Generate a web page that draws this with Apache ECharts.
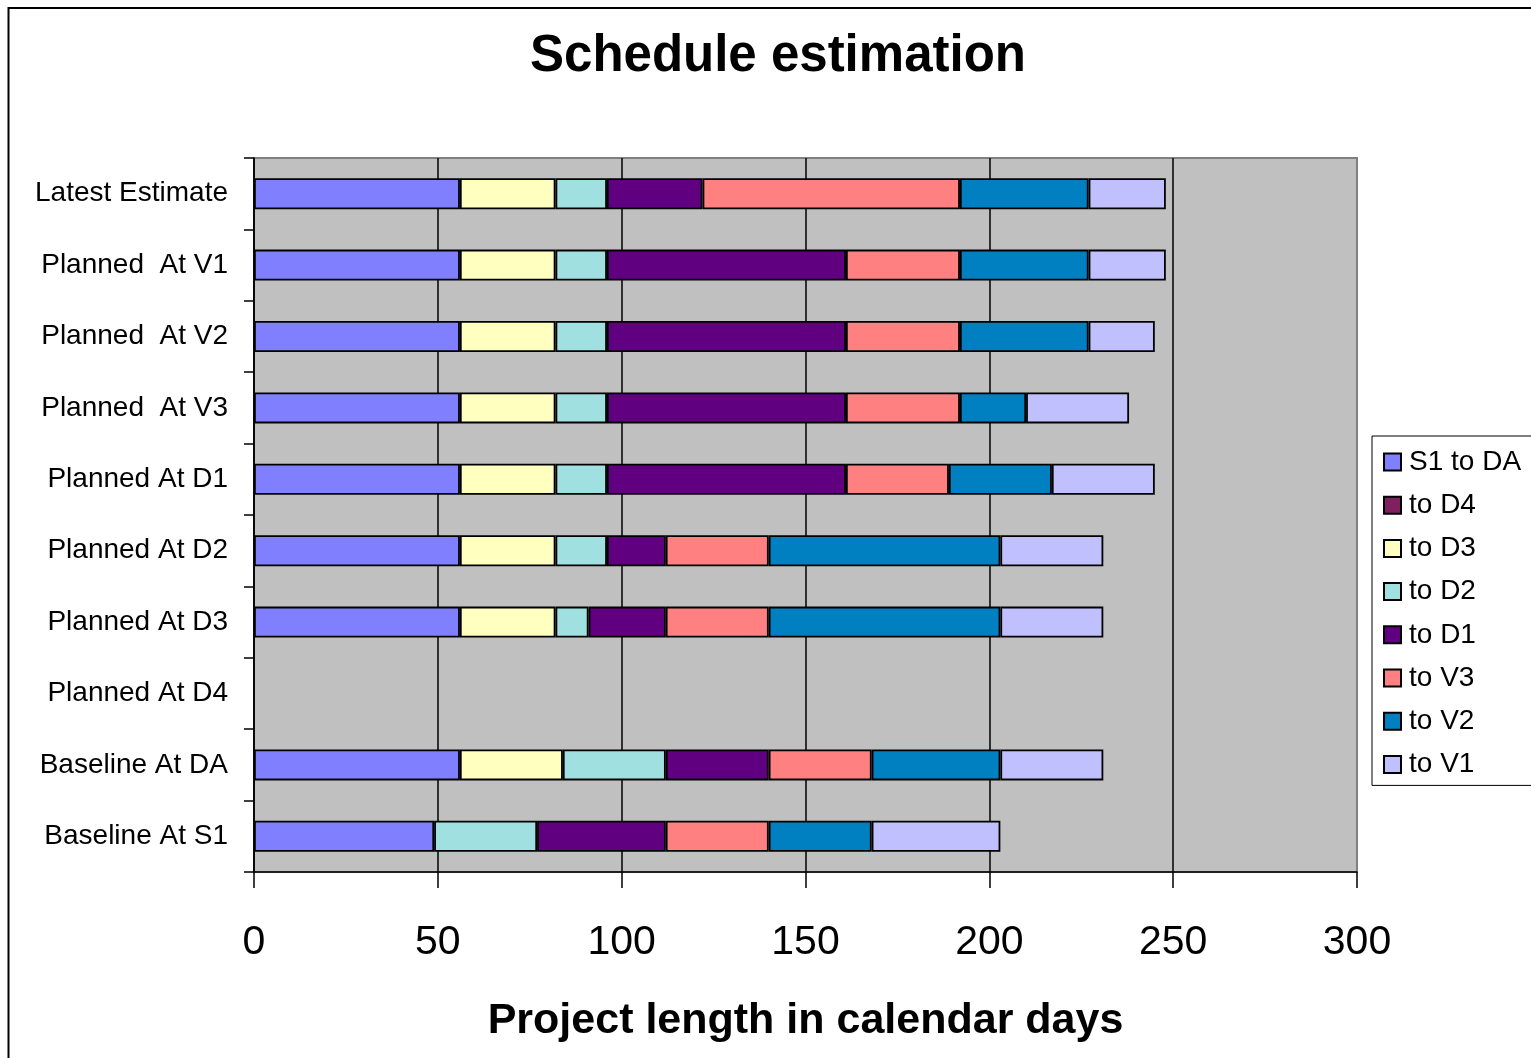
<!DOCTYPE html>
<html>
<head>
<meta charset="utf-8">
<script src="https://cdn.jsdelivr.net/npm/echarts@6/dist/echarts.min.js"></script>
<style>
  html, body { margin: 0; padding: 0; background: #fff; }
  #chart { width: 1531px; height: 1058px; }
</style>
</head>
<body>
<div id="chart"></div>
<script>
// rows, top to bottom
const categories = [
    'Latest Estimate', 'Planned  At V1', 'Planned  At V2', 'Planned  At V3', 'Planned At D1',
    'Planned At D2', 'Planned At D3', 'Planned At D4', 'Baseline At DA', 'Baseline At S1'
];
const xTicks = [0, 50, 100, 150, 200, 250, 300];

// days per phase, same row order as categories
const s1ToDA = [56, 56, 56, 56, 56, 56, 56, 0, 56, 49];
const toD4 = [0, 0, 0, 0, 0, 0, 0, 0, 0, 0];
const toD3 = [26, 26, 26, 26, 26, 26, 26, 0, 28, 0];
const toD2 = [14, 14, 14, 14, 14, 14, 9, 0, 28, 28];
const toD1 = [26, 65, 65, 65, 65, 16, 21, 0, 28, 35];
const toV3 = [70, 31, 31, 31, 28, 28, 28, 0, 28, 28];
const toV2 = [35, 35, 35, 18, 28, 63, 63, 0, 35, 28];
const toV1 = [21, 21, 18, 28, 28, 28, 28, 0, 28, 35];

const seriesNames = ['S1 to DA', 'to D4', 'to D3', 'to D2', 'to D1', 'to V3', 'to V2', 'to V1'];
const seriesData = [s1ToDA, toD4, toD3, toD2, toD1, toV3, toV2, toV1];
const colors = ['#8080FF', '#802060', '#FFFFC0', '#A0E0E0', '#600080', '#FF8080', '#0080C0', '#C0C0FF'];

const font = '"Liberation Sans", Arial, sans-serif';

const chart = echarts.init(document.getElementById('chart'));

chart.setOption({
    backgroundColor: '#fff',
    animation: false,
    textStyle: { fontFamily: font, color: '#000' },
    // chart frame, runs off the right and bottom edges
    graphic: [{
        type: 'rect',
        shape: { x: 8.5, y: 8, width: 1600, height: 1100 },
        style: { fill: null, stroke: '#000', lineWidth: 2 },
        silent: true
    }],
    title: {
        text: 'Schedule estimation',
        left: 530,
        top: 31,
        padding: 0,
        textStyle: { fontFamily: font, fontSize: 51, fontWeight: 'bold', color: '#000' }
    },
    legend: {
        orient: 'vertical',
        left: 1372,
        top: 436,
        padding: [11, 30, 6, 11],
        borderColor: '#000',
        borderWidth: 1,
        backgroundColor: '#fff',
        icon: 'rect',
        itemWidth: 17,
        itemHeight: 17,
        itemGap: 13.2,
        selectedMode: false,
        data: seriesNames,
        textStyle: { fontFamily: font, fontSize: 28, lineHeight: 30, color: '#000', padding: [0, 0, 0, 3] }
    },
    grid: {
        left: 254,
        top: 158,
        right: 174,
        bottom: 186,
        show: true,
        backgroundColor: '#C0C0C0',
        borderColor: '#808080',
        borderWidth: 2
    },
    xAxis: {
        type: 'value',
        min: xTicks[0],
        max: xTicks[xTicks.length - 1],
        interval: 50,
        name: 'Project length in calendar days',
        nameLocation: 'middle',
        nameGap: 128,
        nameTextStyle: { fontFamily: font, fontSize: 43, fontWeight: 'bold', color: '#000' },
        axisLine: { show: true, lineStyle: { color: '#000', width: 1.5 } },
        axisTick: { show: true, length: 16, lineStyle: { color: '#000', width: 1.5 } },
        axisLabel: { fontFamily: font, fontSize: 41, color: '#000', margin: 50 },
        splitLine: { show: true, showMaxLine: false, lineStyle: { color: '#000', width: 1.5 } }
    },
    yAxis: {
        type: 'category',
        inverse: true,
        data: categories,
        axisLine: { show: true, lineStyle: { color: '#000', width: 1.5 } },
        axisTick: { show: true, length: 10, lineStyle: { color: '#000', width: 1.5 } },
        axisLabel: { fontFamily: font, fontSize: 28, color: '#000', margin: 26, lineHeight: 34, padding: [5, 0, 0, 0] },
        splitLine: { show: false }
    },
    series: seriesNames.map((name, i) => ({
        name: name,
        type: 'bar',
        stack: 'total',
        barWidth: 31,
        data: seriesData[i].map(v => (v === 0 ? '-' : v)),
        itemStyle: { color: colors[i], borderColor: '#000', borderWidth: 1.8 }
    }))
});
</script>
</body>
</html>
